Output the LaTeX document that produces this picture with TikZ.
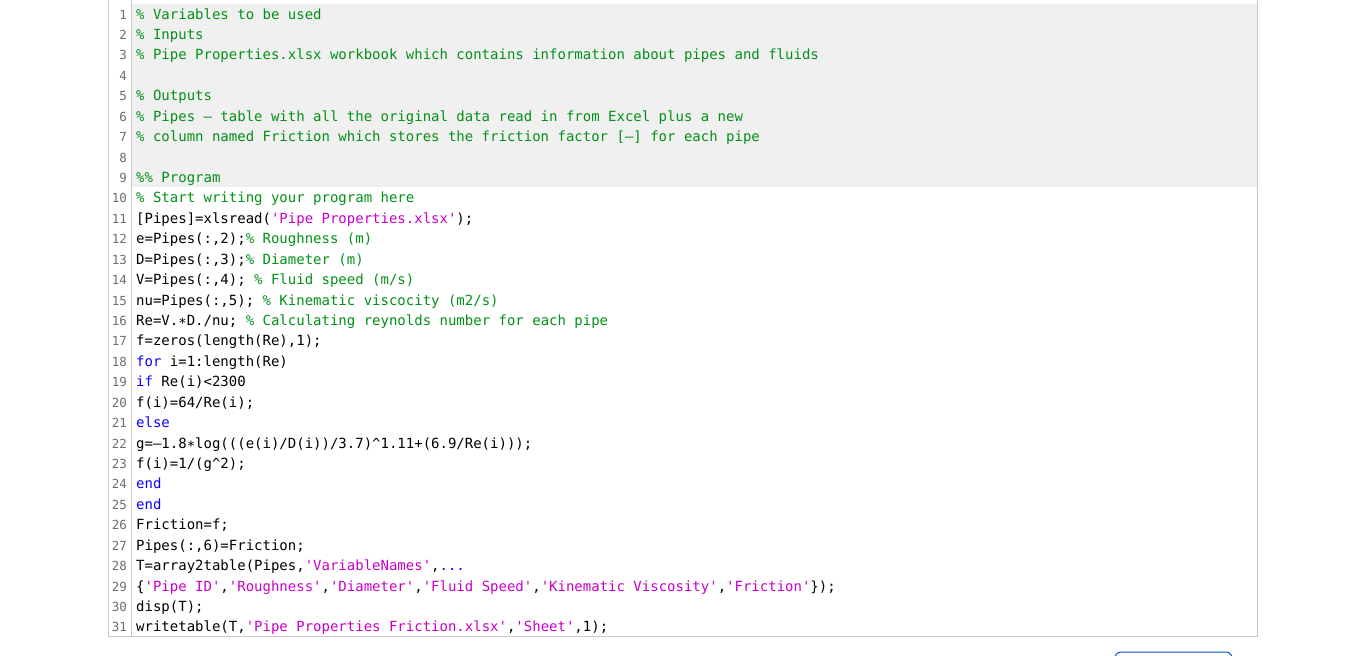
\documentclass[tikz,border=0pt]{standalone}
\usepackage{fontspec}
\setmonofont{DejaVu Sans Mono}
\definecolor{cgreen}{RGB}{2,145,22}
\definecolor{cmag}{RGB}{200,0,200}
\definecolor{cblue}{RGB}{14,0,255}
\definecolor{lnum}{RGB}{110,110,110}
\definecolor{bggray}{RGB}{240,240,240}
\definecolor{frameg}{RGB}{200,200,200}
\newcommand{\cm}[1]{\textcolor{cgreen}{#1}}
\newcommand{\st}[1]{\textcolor{cmag}{#1}}
\newcommand{\kw}[1]{\textcolor{cblue}{#1}}
\newcommand{\ca}{\textasciicircum}
\tikzset{codeln/.style={anchor=base west,inner sep=0pt,font=\ttfamily\fontsize{14}{14}\selectfont},
 numln/.style={anchor=base east,inner sep=0pt,font=\ttfamily\fontsize{12.5}{12.5}\selectfont,text=lnum}}
\begin{document}
\begin{tikzpicture}[x=1pt,y=-1pt]
\useasboundingbox (0,0) rectangle (1366,656);
\fill[bggray] (131,4) rectangle (1257,187);
\draw[frameg,line width=1pt] (108,-2) -- (108,636) -- (1257,636) -- (1257,-2);
\draw[frameg,line width=0.8pt] (131,-2) -- (131,636);
\draw[cblue!60!cyan!80!black,line width=1pt,rounded corners=6pt] (1115,670) -- (1115,652) -- (1232,652) -- (1232,670);
\foreach \t [count=\i] in {
 {\cm{\% Variables to be used}},
 {\cm{\% Inputs}},
 {\cm{\% Pipe Properties.xlsx workbook which contains information about pipes and fluids}},
 {},
 {\cm{\% Outputs}},
 {\cm{\% Pipes – table with all the original data read in from Excel plus a new}},
 {\cm{\% column named Friction which stores the friction factor [–] for each pipe}},
 {},
 {\cm{\%\% Program}},
 {\cm{\% Start writing your program here}},
 {[Pipes]=xlsread(\st{'Pipe Properties.xlsx'});},
 {e=Pipes(:,2);\cm{\% Roughness (m)}},
 {D=Pipes(:,3);\cm{\% Diameter (m)}},
 {V=Pipes(:,4); \cm{\% Fluid speed (m/s)}},
 {nu=Pipes(:,5); \cm{\% Kinematic viscocity (m2/s)}},
 {Re=V.∗D./nu; \cm{\% Calculating reynolds number for each pipe}},
 {f=zeros(length(Re),1);},
 {\kw{for} i=1:length(Re)},
 {\kw{if} Re(i)<2300},
 {f(i)=64/Re(i);},
 {\kw{else}},
 {g=–1.8∗log(((e(i)/D(i))/3.7)\ca1.11+(6.9/Re(i)));},
 {f(i)=1/(g\ca2);},
 {\kw{end}},
 {\kw{end}},
 {Friction=f;},
 {Pipes(:,6)=Friction;},
 {T=array2table(Pipes,\st{'VariableNames'},\kw{...}},
 {\{\st{'Pipe ID'},\st{'Roughness'},\st{'Diameter'},\st{'Fluid Speed'},\st{'Kinematic Viscosity'},\st{'Friction'}\});},
 {disp(T);},
 {writetable(T,\st{'Pipe Properties Friction.xlsx'},\st{'Sheet'},1);}
}{
 \pgfmathsetmacro{\yb}{19+20.43*(\i-1)}
 \node[numln] (n\i) at (127,\yb) {\i};
 \node[codeln] (l\i) at (136,\yb) {\strut\t};
}
\end{tikzpicture}
\end{document}
